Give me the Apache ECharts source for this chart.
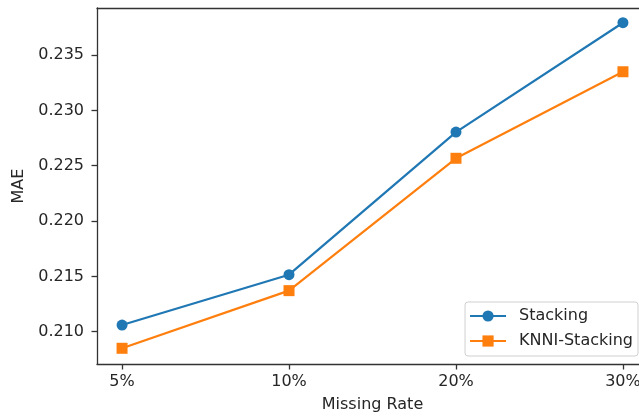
<!DOCTYPE html>
<html>
<head>
<meta charset="utf-8">
<script src="https://cdn.jsdelivr.net/npm/echarts@6/dist/echarts.min.js"></script>
<style>
html,body{margin:0;padding:0;background:#fff;}
#chart{width:639px;height:417px;}
</style>
</head>
<body>
<div id="chart"></div>
<script>
var categories = ['5%', '10%', '20%', '30%'];
var stacking = [0.2106, 0.21515, 0.22804, 0.23792];
var knniStacking = [0.2085, 0.21371, 0.22567, 0.23349];
var yTicks = [0.210, 0.215, 0.220, 0.225, 0.230, 0.235];
var yTickLabels = ['0.210', '0.215', '0.220', '0.225', '0.230', '0.235'];

var xIdx = categories.map(function (c, i) { return i; });
function pairs(vals) { return vals.map(function (v, i) { return [i, v]; }); }

var font = 'DejaVu Sans';
var txt = '#262626';
var fs = 16;
var chart = echarts.init(document.getElementById('chart'), null, {renderer: 'canvas'});
chart.setOption({
  backgroundColor: '#ffffff',
  animation: false,
  textStyle: {fontFamily: font},
  grid: {left: 97, top: 8, width: 551, height: 356, containLabel: false, outerBoundsMode: 'none'},
  xAxis: [{
    type: 'value', min: -0.15, max: 3.15,
    name: 'Missing Rate', nameLocation: 'middle', nameGap: 33,
    nameTextStyle: {fontFamily: font, fontSize: fs, color: txt},
    axisLine: {show: true, onZero: false, lineStyle: {color: '#333', width: 1.3}},
    axisTick: {show: true, length: 5.5, lineStyle: {color: '#333', width: 1.3}, customValues: xIdx},
    axisLabel: {fontFamily: font, fontSize: fs, color: txt, margin: 10, customValues: xIdx,
      formatter: function (v) { return categories[Math.round(v)]; }},
    splitLine: {show: false}
  }, {
    type: 'value', position: 'top', min: -0.15, max: 3.15,
    axisLine: {show: true, onZero: false, lineStyle: {color: '#333', width: 1.3}},
    axisTick: {show: false}, axisLabel: {show: false}, splitLine: {show: false}
  }],
  yAxis: [{
    type: 'value', min: 0.20708, max: 0.23925,
    name: 'MAE', nameLocation: 'middle', nameGap: 65, nameRotate: 90,
    nameTextStyle: {fontFamily: font, fontSize: fs, color: txt},
    axisLine: {show: true, onZero: false, lineStyle: {color: '#333', width: 1.3}},
    axisTick: {show: true, length: 5.5, lineStyle: {color: '#333', width: 1.3}, customValues: yTicks},
    axisLabel: {fontFamily: font, fontSize: fs, color: txt, margin: 13, customValues: yTicks,
      formatter: function (v) {
        for (var i = 0; i < yTicks.length; i++) { if (Math.abs(yTicks[i] - v) < 1e-9) return yTickLabels[i]; }
        return '';
      }},
    splitLine: {show: false}
  }],
  legend: {
    orient: 'vertical', right: 1, bottom: 61,
    backgroundColor: '#fff', borderColor: '#d0d0d0', borderWidth: 1, borderRadius: 3,
    padding: [6, 5, 7, 4],
    itemWidth: 36, itemHeight: 14, itemGap: 9,
    textStyle: {fontFamily: font, fontSize: fs, color: txt, padding: [0, 0, 0, 8]},
    data: ['Stacking', 'KNNI-Stacking']
  },
  series: [{
    name: 'Stacking', type: 'line', data: pairs(stacking),
    symbol: 'circle', symbolSize: 11,
    lineStyle: {color: '#1f77b4', width: 2.2},
    itemStyle: {color: '#1f77b4'}
  }, {
    name: 'KNNI-Stacking', type: 'line', data: pairs(knniStacking),
    symbol: 'rect', symbolSize: 11,
    lineStyle: {color: '#ff7f0e', width: 2.2},
    itemStyle: {color: '#ff7f0e'}
  }]
});
</script>
</body>
</html>
